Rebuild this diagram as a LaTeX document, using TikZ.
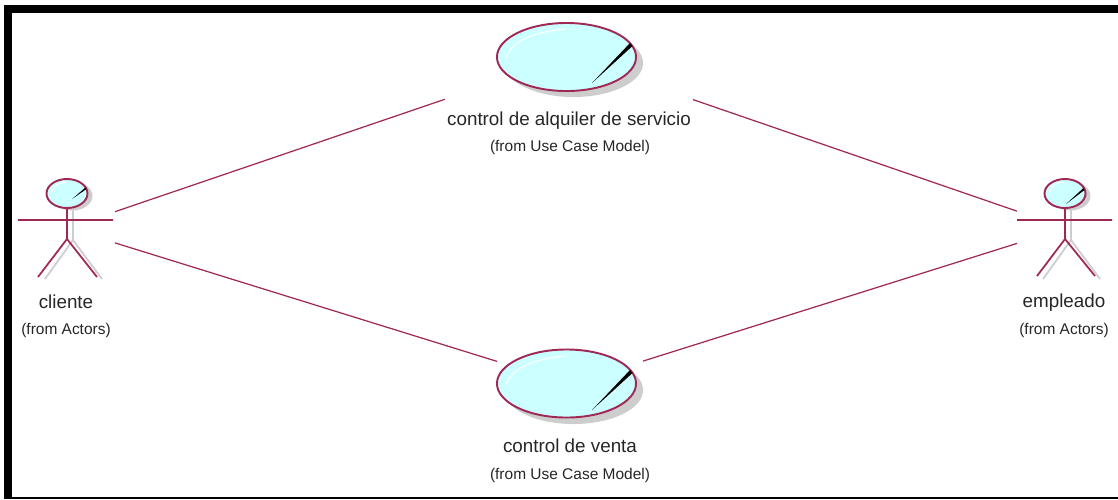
\documentclass[tikz,border=0pt]{standalone}
\usepackage{fontspec}
\setmainfont{Liberation Sans}
\usetikzlibrary{shapes.geometric}
\definecolor{linea}{RGB}{160,40,85}
\definecolor{relleno}{RGB}{204,255,255}
\definecolor{sombra}{RGB}{205,205,205}
\tikzset{
  caja/.style={inner sep=0pt,outer sep=0pt},
  caso/.style={ellipse,draw=linea,fill=relleno,line width=0.55pt,inner sep=0pt,minimum width=1.39cm,minimum height=0.68cm},
  casosombra/.style={ellipse,fill=sombra,inner sep=0pt,minimum width=1.39cm,minimum height=0.68cm},
  cabeza/.style={ellipse,draw=linea,fill=relleno,line width=0.55pt,inner sep=0pt,minimum width=0.41cm,minimum height=0.29cm},
  cabezasombra/.style={ellipse,fill=sombra,inner sep=0pt,minimum width=0.41cm,minimum height=0.29cm},
  nombre/.style={inner sep=0pt,font=\fontsize{5.35pt}{7pt}\selectfont,text=black!85},
  origen/.style={inner sep=0pt,font=\fontsize{4.4pt}{6pt}\selectfont,text=black!85},
  asociacion/.style={draw=linea,line width=0.35pt},
  palo/.style={draw=linea,line width=0.5pt},
  palosombra/.style={draw=sombra,line width=0.5pt}
}
\begin{document}
\begin{tikzpicture}[x=0.01cm,y=0.01cm]
    \useasboundingbox (0,0) rectangle (1118,-499);
    % marco
    \fill [black] (4,-5) rectangle (1118,-13);
    \fill [black] (4,-5) rectangle (12,-499);
    \fill [black] (4,-496.5) rectangle (1118,-499);
    % cajas de los conectores
    \node [caja,minimum width=0.96cm,minimum height=1cm] (cliente) at (67,-228) {};
    \node [caja,minimum width=0.98cm,minimum height=1cm] (empleado) at (1066,-228) {};
    \node [caja,minimum width=2.48cm,minimum height=0.9cm] (alquiler) at (569,-57) {};
    \node [caja,minimum width=1.46cm,minimum height=0.8cm] (venta) at (570,-384) {};
    \draw [asociacion] (cliente) -- (alquiler);
    \draw [asociacion] (cliente) -- (venta);
    \draw [asociacion] (empleado) -- (alquiler);
    \draw [asociacion] (empleado) -- (venta);
    % casos de uso
    \node [casosombra] (alquilersombra) at (573.5,-63) {};
    \node [caso] (alquilercaso) at (566.5,-57) {};
    \draw [white,line width=0.3pt] (506,-58) .. controls (512,-40) and (535,-32) .. (565,-29);
    \fill [black] (592,-83) -- (630,-43) -- (632.5,-46) -- cycle;
    \node [nombre] (alquilernombre) at (569,-121) {control de alquiler de servicio};
    \node [origen] (alquilerorigen) at (570,-147.5) {(from Use Case Model)};
    \node [casosombra] (ventasombra) at (573.5,-390) {};
    \node [caso] (ventacaso) at (566.5,-383.5) {};
    \draw [white,line width=0.3pt] (506,-385) .. controls (512,-367) and (535,-359) .. (565,-356);
    \fill [black] (592,-410) -- (630,-370) -- (632.5,-373) -- cycle;
    \node [nombre] (ventanombre) at (570,-446) {control de venta};
    \node [origen] (ventaorigen) at (570,-475) {(from Use Case Model)};
    % actor cliente
    \draw [palosombra] (73,-208) -- (73,-240) (45,-279) -- (73,-240) -- (102,-279);
    \node [cabezasombra] (clientesombra) at (72,-196) {};
    \node [cabeza] (clientecabeza) at (67,-193.5) {};
    \draw [white,line width=0.3pt] (52,-192) .. controls (53,-186) and (58,-183) .. (66,-182);
    \fill [black] (72,-199) -- (85.5,-187.5) -- (86.5,-189) -- cycle;
    \draw [palo] (18,-220) -- (113,-220) (67,-208) -- (67,-239) (38,-277) -- (67,-239) -- (97,-277);
    \node [nombre] (clientenombre) at (66,-302) {cliente};
    \node [origen] (clienteorigen) at (66,-330) {(from Actors)};
    % actor empleado
    \draw [palosombra] (1071,-208) -- (1071,-240) (1043,-279) -- (1071,-240) -- (1100,-279);
    \node [cabezasombra] (empleadosombra) at (1070,-196) {};
    \node [cabeza] (empleadocabeza) at (1065,-193.5) {};
    \draw [white,line width=0.3pt] (1050,-192) .. controls (1051,-186) and (1056,-183) .. (1064,-182);
    \fill [black] (1066,-204) -- (1083.5,-188) -- (1084.5,-190) -- cycle;
    \draw [palo] (1017,-220) -- (1112,-220) (1065,-208) -- (1065,-239) (1037,-276) -- (1065,-239) -- (1095,-276);
    \node [nombre] (empleadonombre) at (1064,-303) {empleado};
    \node [origen] (empleadoorigen) at (1064,-330) {(from Actors)};
\end{tikzpicture}
\end{document}
